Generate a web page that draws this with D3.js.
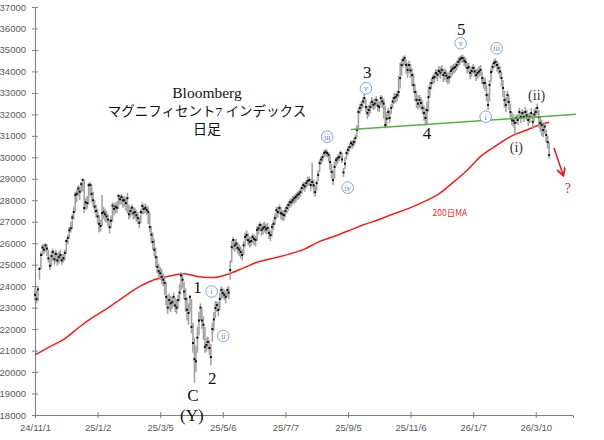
<!DOCTYPE html>
<html>
<head>
<meta charset="utf-8">
<script src="https://cdn.jsdelivr.net/npm/d3@7"></script>
<style>
  body { margin: 0; background: #fff; }
  svg { display: block; }
</style>
</head>
<body>
<svg id="chart"></svg>
<script>
// tick labels on the category (trading day) axis, every 42 sessions
const tickLabels = ['24/11/1', '25/1/2', '25/3/5', '25/5/6', '25/7/7', '25/9/5', '25/11/6', '26/1/7', '26/3/10'];
const tickIndex = [0, 42, 84, 126, 168, 210, 252, 294, 336];
const yTicks = d3.range(18000, 37001, 1000);

// daily bars (close / high / low)
const closes = [
  23600, 23400, 23850, 24800, 25450, 25800, 25700, 25900, 25750, 25300,
  24950, 25400, 25600, 25250, 25500, 25200, 25350, 25450, 25200, 25300,
  25550, 26100, 26250, 26600, 26700, 27200, 27450, 28250, 28300, 28550,
  28400, 28750, 28950, 27640, 27900, 27870, 28700, 28720, 28300, 28000,
  27700, 27500, 27250, 26900, 26800, 27400, 27450, 27350, 27250, 27100,
  26750, 27050, 27750, 27600, 27700, 27650, 28200, 28050, 28150, 28000,
  28000, 27870, 28100, 27350, 27500, 27650, 27400, 27450, 27300, 27170,
  26950, 27450, 27730, 27600, 27640, 27550, 27450, 26750, 26400, 26060,
  25700, 25350, 24900, 24700, 24600, 24430, 24300, 24150, 23500, 23000,
  23350, 23200, 23250, 23500, 23100, 23000, 23350, 23700, 24500, 24300,
  23750, 23400, 22900, 22750, 23500, 22100, 21350, 20600, 20500, 21600,
  22400, 23000, 22400, 22200, 21170, 21260, 21400, 21120, 20700, 22000,
  22450, 22980, 23120, 22890, 23400, 23820, 23680, 23600, 23500, 23820,
  23700, 24750, 25820, 26150, 25900, 25980, 25780, 25700, 25590, 25450,
  25900, 26290, 26380, 26150, 26060, 26100, 26290, 26200, 26150, 26620,
  26700, 26850, 26620, 26700, 26760, 26650, 26710, 26480, 26380, 26760,
  26900, 27170, 27540, 27450, 27640, 27400, 27350, 27310, 27500, 27640,
  27780, 27900, 27920, 28010, 28100, 28150, 28240, 28300, 28380, 28570,
  28710, 28650, 28800, 28900, 28940, 28710, 28850, 28700, 28380, 28800,
  29180, 29730, 29900, 30010, 30200, 30250, 30200, 30110, 29780, 29320,
  28940, 29550, 29870, 29950, 30010, 30200, 29900, 29300, 29700, 30200,
  30350, 30480, 30670, 30600, 30710, 30900, 31270, 32110, 32300, 32440,
  32600, 32760, 32340, 32060, 32200, 32340, 32580, 32450, 32500, 32670,
  32400, 32340, 32760, 32600, 32500, 31500, 31800, 32110, 31830, 32300,
  32600, 32760, 32810, 32900, 33040, 33690, 34300, 34530, 34620, 34300,
  34070, 34300, 34050, 33830, 33370, 33040, 32670, 32500, 32670, 32530,
  32300, 32060, 31830, 32200, 32800, 33230, 33460, 33690, 33740, 33930,
  33850, 34020, 33950, 34070, 33830, 33930, 33800, 33690, 33740, 34020,
  34100, 34160, 34210, 34300, 34440, 34550, 34620, 34620, 34500, 34440,
  34160, 34210, 33930, 34020, 34160, 34000, 33830, 33930, 34000, 34070,
  33690, 33460, 33460, 32900, 32440, 33370, 33970, 34210, 34390, 34440,
  34300, 34160, 34000, 33690, 33230, 32670, 32440, 32900, 32580, 32110,
  31740, 31700, 31600, 31830, 31740, 32110, 31880, 32060, 31880, 32110,
  31950, 31740, 31880, 32060, 31650, 32000, 32110, 32300, 31880, 31600,
  31500, 31270, 31430, 31040, 30710, 30100
];
const highs = [
  23900, 23800, 24000, 24900, 25600, 25950, 25950, 26000, 25950, 25700,
  25300, 25650, 25750, 25600, 25700, 25550, 25600, 25700, 25500, 25500,
  25700, 26200, 26400, 26750, 27000, 27350, 27700, 28400, 28500, 28700,
  28650, 28850, 29000, 28950, 28100, 28200, 28800, 28850, 28750, 28400,
  28000, 27800, 27600, 27300, 27100, 28250, 27700, 27600, 27500, 27350,
  27100, 27300, 27900, 27850, 27900, 27950, 28300, 28250, 28300, 28200,
  28200, 28100, 28350, 27800, 27700, 27800, 27700, 27650, 27550, 27450,
  27250, 27600, 27900, 27800, 27850, 27750, 27700, 27400, 26800, 26500,
  26200, 25800, 25400, 25050, 24900, 24800, 24600, 24500, 24200, 23600,
  23650, 23550, 23500, 23700, 23450, 23400, 23600, 24100, 24650, 24600,
  24200, 23900, 23500, 23200, 23600, 23400, 22300, 21600, 21200, 22100,
  22800, 23200, 23000, 22600, 22100, 21600, 21650, 21500, 21300, 22300,
  22800, 23300, 23300, 23250, 23700, 24000, 23900, 23850, 23750, 23950,
  24000, 25200, 26100, 26300, 26200, 26200, 26050, 25950, 25850, 25700,
  26100, 26500, 26600, 26450, 26300, 26350, 26450, 26400, 26350, 26800,
  26900, 27000, 26900, 26950, 27000, 26900, 26950, 26750, 26600, 26900,
  27100, 27400, 27700, 27700, 27800, 27700, 27550, 27500, 27700, 27800,
  27950, 28050, 28100, 28200, 28250, 28300, 28400, 28450, 28550, 28700,
  28850, 28850, 28950, 29100, 29100, 29000, 29750, 28950, 28700, 28950,
  29400, 29900, 30050, 30150, 30350, 30400, 30350, 30250, 30100, 29700,
  29400, 29800, 30000, 30100, 30150, 30300, 30200, 29500, 30000, 30350,
  30500, 30650, 30800, 30800, 30900, 31050, 31500, 32300, 32500, 32600,
  32800, 33000, 32700, 32400, 32450, 32600, 32800, 32700, 32750, 32850,
  32700, 32600, 32900, 32850, 32750, 32400, 32100, 32300, 32200, 32500,
  32800, 33000, 33000, 33100, 33800, 34400, 34600, 34700, 34750, 34550,
  34400, 34500, 34350, 34150, 33900, 33400, 33100, 32900, 32900, 32800,
  32650, 32400, 32300, 32600, 33300, 33500, 33700, 33850, 33950, 34100,
  34100, 34250, 34200, 34300, 34100, 34150, 34050, 33950, 34000, 34250,
  34300, 34350, 34400, 34500, 34650, 34700, 34750, 34780, 34700, 34650,
  34400, 34400, 34200, 34250, 34350, 34250, 34100, 34150, 34250, 34300,
  34000, 33750, 33700, 33400, 33000, 33600, 34150, 34400, 34550, 34600,
  34500, 34400, 34250, 34000, 33600, 33100, 32800, 33100, 32900, 32500,
  32100, 32000, 31900, 32000, 32000, 32300, 32100, 32250, 32150, 32350,
  32200, 32050, 32100, 32300, 32000, 32250, 32350, 32500, 32200, 31900,
  31750, 31550, 31600, 31300, 31000, 30700
];
const lows = [
  23300, 23200, 23300, 24300, 24800, 25400, 25500, 25600, 25400, 25100,
  24750, 24900, 25200, 25000, 25100, 24950, 25050, 25150, 25000, 25100,
  25200, 25500, 25950, 26200, 26500, 26650, 27100, 27450, 27900, 28200,
  28000, 28350, 28400, 27400, 27550, 27600, 27800, 28200, 27900, 27700,
  27400, 27200, 26900, 26500, 26550, 26800, 27150, 27000, 26950, 26800,
  26450, 26700, 27000, 27300, 27400, 27400, 27600, 27800, 27800, 27650,
  27700, 27500, 27400, 27100, 27200, 27300, 27100, 27150, 27000, 26900,
  26700, 26950, 27350, 27350, 27400, 27300, 26900, 26500, 26000, 25700,
  25400, 24900, 24600, 24400, 24300, 24100, 24000, 23600, 23100, 22700,
  22900, 22800, 22950, 23050, 22800, 22700, 22950, 23300, 23800, 23900,
  23400, 22800, 22400, 22200, 22800, 21800, 20900, 19500, 20000, 20900,
  21700, 22400, 22000, 21500, 20900, 20950, 21050, 20800, 20300, 21400,
  21900, 22500, 22800, 22600, 22900, 23400, 23450, 23350, 23200, 23500,
  23400, 24300, 25100, 25700, 25600, 25700, 25500, 25400, 25300, 25200,
  25450, 25850, 26100, 25900, 25800, 25850, 26000, 25900, 25850, 26100,
  26400, 26550, 26350, 26400, 26500, 26400, 26450, 26200, 26100, 26300,
  26600, 26850, 27150, 27200, 27350, 27100, 27050, 27050, 27200, 27400,
  27500, 27650, 27700, 27800, 27850, 27900, 28000, 28050, 28150, 28300,
  28450, 28400, 28550, 28650, 28700, 28450, 28600, 28300, 28150, 28450,
  28900, 29300, 29650, 29800, 30000, 30050, 30000, 29800, 29400, 29000,
  28700, 29000, 29600, 29700, 29800, 29950, 29750, 29080, 29450, 29900,
  30100, 30250, 30400, 30400, 30500, 30650, 30950, 31300, 32000, 32150,
  32300, 32500, 32100, 31800, 31900, 32050, 32300, 32200, 32250, 32400,
  32150, 32100, 32400, 32300, 31800, 31350, 31450, 31750, 31600, 32000,
  32300, 32500, 32550, 32600, 32800, 33200, 33800, 34200, 34300, 33900,
  33700, 33900, 33700, 33300, 33000, 32600, 32300, 32200, 32300, 32200,
  32000, 31700, 31450, 31500, 32100, 32800, 33150, 33400, 33450, 33650,
  33550, 33750, 33650, 33800, 33500, 33600, 33500, 33400, 33450, 33700,
  33800, 33900, 33950, 34050, 34200, 34300, 34400, 34400, 34250, 34150,
  33900, 33950, 33650, 33750, 33900, 33750, 33550, 33650, 33750, 33800,
  33400, 33200, 33100, 32600, 32200, 32600, 33500, 33950, 34150, 34200,
  34000, 33900, 33700, 33300, 32800, 32300, 32100, 32500, 32200, 31800,
  31500, 31400, 31050, 31550, 31500, 31800, 31600, 31800, 31650, 31850,
  31700, 31450, 31600, 31800, 31300, 31700, 31850, 32000, 31400, 31200,
  31000, 30950, 31100, 30700, 30400, 29950
];

// 200-day moving average, sampled every 10 sessions
const maIndex = [0, 10, 20, 30, 40, 50, 60, 70, 80, 90, 100, 110, 120, 130, 140, 150, 160, 170,
  180, 190, 200, 210, 220, 230, 240, 250, 260, 270, 280, 290, 300, 310, 320, 330, 340, 345];
const maValues = [20800, 21180, 21560, 22110, 22600, 23040, 23520, 23980, 24300, 24470, 24580, 24440,
  24400, 24570, 24850, 25140, 25300, 25480, 25700, 26050, 26300, 26570, 26850, 27080, 27350, 27600,
  27900, 28250, 28800, 29400, 30100, 30570, 31000, 31270, 31550, 31630];

// neckline (green)
const necklineIndex = [212, 363];
const necklineValues = [31300, 32000];

// wave counts
const bigLabels = [
  {t: '5', i: 286, v: 35950}, {t: '3', i: 223, v: 33950}, {t: '4', i: 263, v: 31130},
  {t: '1', i: 109, v: 23950}, {t: '2', i: 119, v: 19720}, {t: 'C', i: 106, v: 18930},
  {t: '(Y)', i: 105.3, v: 18000}
];
const smallLabels = [
  {t: '(i)', i: 323, v: 30490}, {t: '(ii)', i: 336.6, v: 32900}
];
const circleLabels = [
  {t: 'iii', i: 196.1, v: 30960}, {t: 'iv', i: 209.8, v: 28585}, {t: 'v', i: 222.1, v: 33214},
  {t: 'v', i: 285.6, v: 35310}, {t: 'i', i: 302.4, v: 31890}, {t: 'iii', i: 309.8, v: 35077},
  {t: 'i', i: 118.5, v: 23750}, {t: 'ii', i: 126.3, v: 21680}
];
const arrowIndex = [348.2, 354.4];
const arrowValues = [30440, 29180];

class StockChart {

  constructor(_config) {
    this.config = {
      parentElement: _config.parentElement,
      containerWidth: _config.containerWidth || 604,
      containerHeight: _config.containerHeight || 440
    };
    this.initVis();
  }

  initVis() {
    let vis = this;

    vis.svg = d3.select(vis.config.parentElement)
      .attr('width', vis.config.containerWidth)
      .attr('height', vis.config.containerHeight);

    vis.xScale = d3.scaleLinear().domain([0, 361]).range([35, 573]);
    vis.yScale = d3.scaleLinear().domain([18000, 37000]).range([415, 7]);

    vis.bars = closes.map((c, i) => ({i: i, c: c, h: highs[i], l: lows[i]}));
    vis.ma = maIndex.map((d, k) => ({i: d, v: maValues[k]}));

    vis.renderVis();
  }

  renderVis() {
    let vis = this;
    const x = vis.xScale, y = vis.yScale;

    // axes
    const yAxis = d3.axisLeft(y).tickValues(yTicks).tickSize(3).tickPadding(6).tickFormat(d3.format('d'));
    const yG = vis.svg.append('g').attr('transform', 'translate(35,0)').call(yAxis);
    yG.selectAll('.tick line').attr('x1', 3);

    const xAxis = d3.axisBottom(x).tickValues(tickIndex).tickSize(3).tickPadding(6)
      .tickFormat((d, k) => tickLabels[k]);
    const xG = vis.svg.append('g').attr('transform', 'translate(0,415)').call(xAxis);
    xG.selectAll('.tick line').attr('y1', -3);

    [yG, xG].forEach(g => {
      g.select('.domain').attr('stroke', '#7f7f7f');
      g.selectAll('.tick line').attr('stroke', '#7f7f7f');
      g.selectAll('text')
        .style('font-family', '"Liberation Sans", Arial, sans-serif')
        .style('font-size', '9.5px')
        .attr('fill', '#595959');
    });

    // title
    const title = ['Bloomberg', 'マグニフィセント7 インデックス', '日足'];
    const titleSize = ['15.5px', '13.5px', '14px'];
    vis.svg.selectAll('.title')
      .data(title)
      .join('text')
      .attr('class', 'title')
      .attr('x', 207)
      .attr('y', (d, k) => 98 + k * 18)
      .attr('text-anchor', 'middle')
      .style('font-family', '"Liberation Serif", "Noto Sans CJK JP", serif')
      .style('font-size', (d, k) => titleSize[k])
      .attr('fill', '#111')
      .text(d => d);

    // moving average
    vis.svg.append('path')
      .datum(vis.ma)
      .attr('fill', 'none')
      .attr('stroke', '#ff1a1a')
      .attr('stroke-width', 1.5)
      .attr('d', d3.line().x(d => x(d.i)).y(d => y(d.v)).curve(d3.curveMonotoneX));

    vis.svg.append('text')
      .attr('x', x(278.4))
      .attr('y', y(27407))
      .attr('dy', '0.35em')
      .attr('text-anchor', 'middle')
      .style('font-family', '"Noto Sans CJK JP", sans-serif')
      .style('font-size', '8.5px')
      .attr('fill', '#ff1a1a')
      .text('200日MA');

    // price bars
    vis.svg.append('g')
      .selectAll('line')
      .data(vis.bars)
      .join('line')
      .attr('x1', d => x(d.i)).attr('x2', d => x(d.i))
      .attr('y1', d => y(d.h)).attr('y2', d => y(d.l))
      .attr('stroke', '#a3a3a3')
      .attr('stroke-width', 1.6);

    vis.svg.append('g')
      .selectAll('rect')
      .data(vis.bars)
      .join('rect')
      .attr('x', d => x(d.i) - 1)
      .attr('y', d => y(d.c) - 1)
      .attr('width', 2)
      .attr('height', 2)
      .attr('fill', '#111');

    // neckline
    vis.svg.append('line')
      .attr('x1', x(necklineIndex[0])).attr('y1', y(necklineValues[0]))
      .attr('x2', x(necklineIndex[1])).attr('y2', y(necklineValues[1]))
      .attr('stroke', '#4fb343')
      .attr('stroke-width', 1.5);

    // wave labels
    vis.svg.selectAll('.big')
      .data(bigLabels)
      .join('text')
      .attr('class', 'big')
      .attr('x', d => x(d.i))
      .attr('y', d => y(d.v))
      .attr('dy', '0.35em')
      .attr('text-anchor', 'middle')
      .style('font-family', '"Liberation Serif", serif')
      .style('font-size', '17px')
      .attr('fill', '#111')
      .text(d => d.t);

    vis.svg.selectAll('.small')
      .data(smallLabels)
      .join('text')
      .attr('class', 'small')
      .attr('x', d => x(d.i))
      .attr('y', d => y(d.v))
      .attr('dy', '0.35em')
      .attr('text-anchor', 'middle')
      .style('font-family', '"Liberation Serif", serif')
      .style('font-size', '14px')
      .attr('fill', '#333')
      .text(d => d.t);

    const circ = vis.svg.selectAll('.circ')
      .data(circleLabels)
      .join('g')
      .attr('class', 'circ')
      .attr('transform', d => `translate(${x(d.i)},${y(d.v)})`);
    circ.append('circle')
      .attr('r', 5.8)
      .attr('fill', '#fff')
      .attr('stroke', '#7fa7cc')
      .attr('stroke-width', 1);
    circ.append('text')
      .attr('dy', '0.35em')
      .attr('text-anchor', 'middle')
      .style('font-family', '"Liberation Serif", serif')
      .style('font-size', '8px')
      .attr('fill', '#4f86bd')
      .text(d => d.t);

    // arrow and question mark
    vis.svg.append('defs').append('marker')
      .attr('id', 'head')
      .attr('viewBox', '0 0 10 10')
      .attr('refX', 8).attr('refY', 5)
      .attr('markerWidth', 6).attr('markerHeight', 6)
      .attr('orient', 'auto')
      .append('path')
      .attr('d', 'M0,0 L9,5 L0,10')
      .attr('fill', 'none')
      .attr('stroke', '#e8191e')
      .attr('stroke-width', 2);

    vis.svg.append('line')
      .attr('x1', x(arrowIndex[0])).attr('y1', y(arrowValues[0]))
      .attr('x2', x(arrowIndex[1])).attr('y2', y(arrowValues[1]))
      .attr('stroke', '#e8191e')
      .attr('stroke-width', 1.5)
      .attr('marker-end', 'url(#head)');

    vis.svg.append('text')
      .attr('x', x(357.6))
      .attr('y', y(28570))
      .attr('dy', '0.35em')
      .attr('text-anchor', 'middle')
      .style('font-family', '"Liberation Serif", serif')
      .style('font-size', '14px')
      .attr('fill', '#e8191e')
      .text('?');
  }
}

new StockChart({parentElement: '#chart'});
</script>
</body>
</html>
